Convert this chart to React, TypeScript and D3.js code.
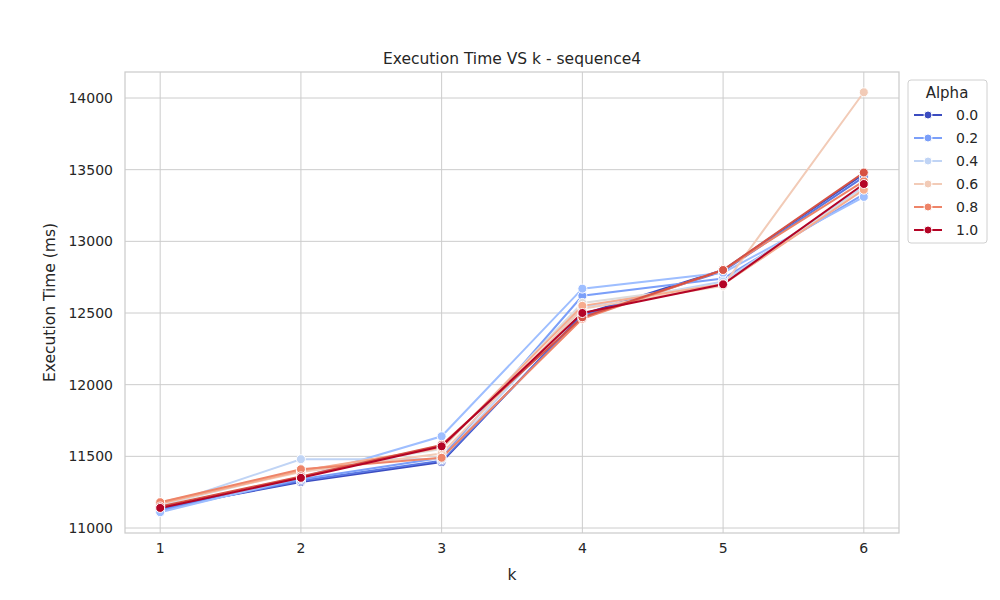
import React, { useEffect, useRef } from 'react';
import * as d3 from 'd3';

const ks = [1, 2, 3, 4, 5, 6];
const alphas = [0.0, 0.1, 0.2, 0.3, 0.4, 0.5, 0.6, 0.7, 0.8, 0.9, 1.0];
const colors = ['#3b4cc0', '#5977e3', '#7b9ff9', '#9ebeff', '#c0d4f5', '#dddcdc', '#f2cbb7', '#f7ac8e', '#ee8468', '#d65244', '#b40426'];
const times = [
  [11140, 11320, 11460, 12490, 12800, 13470],
  [11130, 11330, 11470, 12480, 12790, 13450],
  [11120, 11340, 11490, 12620, 12740, 13330],
  [11110, 11350, 11640, 12670, 12780, 13310],
  [11150, 11480, 11480, 12540, 12720, 13380],
  [11160, 11400, 11550, 12570, 12700, 13370],
  [11180, 11390, 11520, 12530, 12690, 14040],
  [11170, 11400, 11560, 12550, 12700, 13360],
  [11180, 11410, 11490, 12460, 12800, 13420],
  [11150, 11360, 11580, 12470, 12800, 13480],
  [11140, 11350, 11570, 12500, 12700, 13400],
];
const legendIdx = [0, 2, 4, 6, 8, 10];
const yTicks = [11000, 11500, 12000, 12500, 13000, 13500, 14000];

const App: React.FC = () => {
  const ref = useRef<SVGSVGElement>(null);
  useEffect(() => {
    const svg = d3.select(ref.current!);
    svg.selectAll('*').remove();
    const L = 125, R = 899, T = 72, B = 533;
    const x = d3.scaleLinear().domain([0.75, 6.25]).range([L, R]);
    const y = d3.scaleLinear().domain([11000, 14000]).range([528, 98]);
    const font = 'DejaVu Sans, sans-serif';
    svg.append('rect').attr('width', 1000).attr('height', 600).attr('fill', '#fff');
    const g = svg.append('g');
    ks.forEach(k => g.append('line').attr('x1', x(k)).attr('x2', x(k)).attr('y1', T).attr('y2', B).attr('stroke', '#cccccc'));
    yTicks.forEach(v => g.append('line').attr('x1', L).attr('x2', R).attr('y1', y(v)).attr('y2', y(v)).attr('stroke', '#cccccc'));
    g.append('rect').attr('x', L).attr('y', T).attr('width', R - L).attr('height', B - T).attr('fill', 'none').attr('stroke', '#cccccc').attr('stroke-width', 1.25);
    ks.forEach(k => g.append('text').attr('x', x(k)).attr('y', B + 20).attr('text-anchor', 'middle').attr('font-family', font).attr('font-size', 14).attr('fill', '#262626').text(k));
    yTicks.forEach(v => g.append('text').attr('x', L - 12).attr('y', y(v) + 5).attr('text-anchor', 'end').attr('font-family', font).attr('font-size', 14).attr('fill', '#262626').text(v));
    const line = d3.line<number>().x((_, i) => x(ks[i])).y(d => y(d));
    times.forEach((s, i) => {
      g.append('path').attr('d', line(s)!).attr('fill', 'none').attr('stroke', colors[i]).attr('stroke-width', 2);
    });
    times.forEach((s, i) => {
      s.forEach((v, j) => g.append('circle').attr('cx', x(ks[j])).attr('cy', y(v)).attr('r', 4.5).attr('fill', colors[i]).attr('stroke', '#fff').attr('stroke-width', 1));
    });
    svg.append('text').attr('x', (L + R) / 2).attr('y', 64).attr('text-anchor', 'middle').attr('font-family', font).attr('font-size', 15.5).attr('fill', '#262626').text('Execution Time VS k - sequence4');
    svg.append('text').attr('x', (L + R) / 2).attr('y', 580).attr('text-anchor', 'middle').attr('font-family', font).attr('font-size', 15.5).attr('fill', '#262626').text('k');
    svg.append('text').attr('transform', `translate(55,${(T + B) / 2}) rotate(-90)`).attr('text-anchor', 'middle').attr('font-family', font).attr('font-size', 15.5).attr('fill', '#262626').text('Execution Time (ms)');
    const lg = svg.append('g').attr('transform', 'translate(908,80)');
    lg.append('rect').attr('width', 79).attr('height', 163).attr('rx', 3).attr('fill', '#fff').attr('stroke', '#d0d0d0');
    lg.append('text').attr('x', 39).attr('y', 18).attr('text-anchor', 'middle').attr('font-family', font).attr('font-size', 15).attr('fill', '#262626').text('Alpha');
    legendIdx.forEach((ai, r) => {
      const yy = 35 + r * 23;
      lg.append('line').attr('x1', 6).attr('x2', 34).attr('y1', yy).attr('y2', yy).attr('stroke', colors[ai]).attr('stroke-width', 2);
      lg.append('circle').attr('cx', 20).attr('cy', yy).attr('r', 4).attr('fill', colors[ai]).attr('stroke', '#fff');
      lg.append('text').attr('x', 48).attr('y', yy + 5).attr('font-family', font).attr('font-size', 14).attr('fill', '#262626').text(alphas[ai].toFixed(1));
    });
  }, []);
  return <svg ref={ref} width={1000} height={600} style={{ display: 'block', margin: -8 }} />;
};

export default App;
